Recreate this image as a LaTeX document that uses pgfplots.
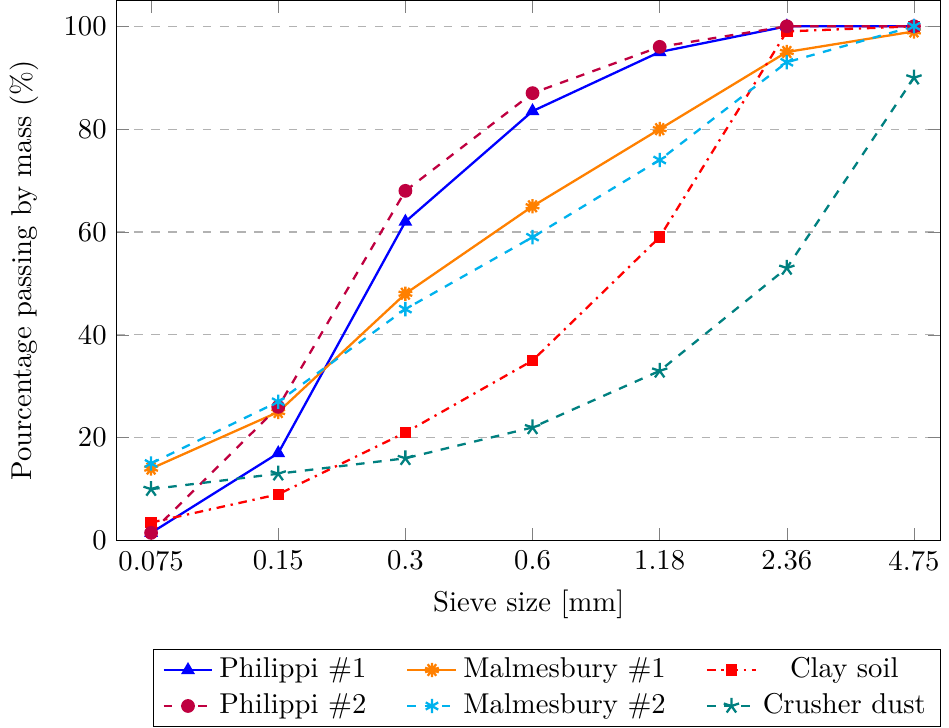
\documentclass[border=0pt]{standalone}
\usepackage{pgfplots}
\pgfplotsset{compat=1.18}
\usetikzlibrary{plotmarks}
\definecolor{cmal}{rgb}{0,0.7,0.93}
\begin{document}
\begin{tikzpicture}
\begin{axis}[
    width=10.1cm,
    height=6.62cm,
    scale only axis,
    xmin=-0.27, xmax=6.21,
    ymin=0, ymax=105,
    xtick={0,1,2,3,4,5,6},
    xticklabels={0.075,0.15,0.3,0.6,1.18,2.36,4.75},
    ytick={0,20,40,60,80,100},
    ymajorgrids,
    grid style={dashed,gray!60},
    xlabel={Sieve size [mm]},
    ylabel={Pourcentage passing by mass (\%)},
    ylabel style={yshift=2pt},
    legend columns=3,
    legend cell align=center,
    legend style={at={(1,-0.2)},anchor=north east, inner ysep=1pt,
        /tikz/every even column/.append style={column sep=0.42cm}},
    every axis plot/.append style={thick},
]
\addplot[blue, mark=triangle*] coordinates {(0,1.5) (1,17) (2,62) (3,83.5) (4,95) (5,100) (6,100)};
\addlegendentry{Philippi \#1}
\addplot[orange, mark=10-pointed star, mark size=2.5pt] coordinates {(0,14) (1,25) (2,48) (3,65) (4,80) (5,95) (6,99)};
\addlegendentry{Malmesbury \#1}
\addplot[red, dashdotted, mark=square*, mark size=1.6pt, mark options={solid}] coordinates {(0,3.5) (1,9) (2,21) (3,35) (4,59) (5,99) (6,100)};
\addlegendentry{Clay soil}
\addplot[purple, dashed, mark=*, mark options={solid}] coordinates {(0,1.5) (1,26) (2,68) (3,87) (4,96) (5,100) (6,100)};
\addlegendentry{Philippi \#2}
\addplot[cmal, dashed, mark=asterisk, mark size=2.5pt, mark options={solid}] coordinates {(0,15) (1,27) (2,45) (3,59) (4,74) (5,93) (6,100)};
\addlegendentry{Malmesbury \#2}
\addplot[teal, dashed, mark=star, mark size=2.8pt, mark options={solid}] coordinates {(0,10) (1,13) (2,16) (3,22) (4,33) (5,53) (6,90)};
\addlegendentry{Crusher dust}
\end{axis}
\end{tikzpicture}
\end{document}
